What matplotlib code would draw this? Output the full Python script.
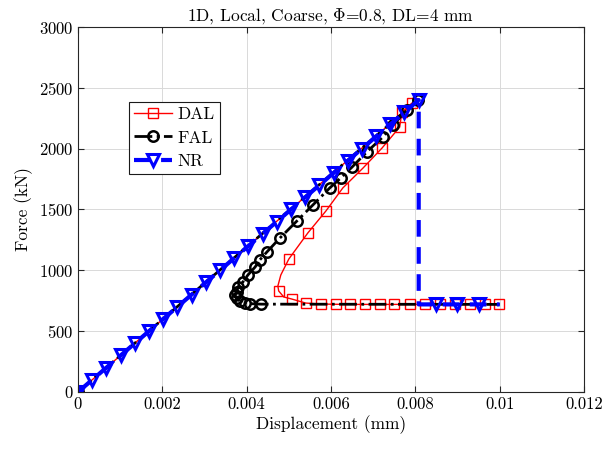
import matplotlib
matplotlib.use("Agg")
import matplotlib.pyplot as plt

# NR: linear loading, sudden drop, then flat
nr_x = [0, 0.000337, 0.000673, 0.00101, 0.001347, 0.001683, 0.00202, 0.002357,
        0.002693, 0.00303, 0.003367, 0.003703, 0.00404, 0.004377, 0.004713,
        0.00505, 0.005387, 0.005723, 0.00606, 0.006397, 0.006733, 0.00707,
        0.007407, 0.007743, 0.00808, 0.00808, 0.0085, 0.009, 0.0095, 0.01]
nr_f = [0, 100, 200, 300, 400, 500, 600, 700, 800, 900, 1000, 1100, 1200, 1300,
        1400, 1500, 1600, 1700, 1800, 1900, 2000, 2100, 2200, 2300, 2400,
        720, 720, 720, 720, 720]
nr_marks = list(range(25)) + [26, 27, 28]

# FAL: snap-back curve
fal_x = [0, 0.00806, 0.00780, 0.00747, 0.00723, 0.00685, 0.00650, 0.00623,
         0.00597, 0.00557, 0.00519, 0.00479, 0.00448, 0.00431, 0.00420,
         0.00403, 0.00391, 0.00379, 0.00377, 0.00372, 0.00377, 0.00384,
         0.00396, 0.00408, 0.00434, 0.01]
fal_f = [0, 2400, 2318, 2194, 2096, 1973, 1849, 1759, 1677, 1537, 1405, 1266,
         1151, 1085, 1027, 962, 904, 863, 822, 797, 773, 745, 733, 726, 722, 720]
fal_marks = list(range(0, 25))

# DAL: smoother return path
dal_x = [0, 0.00806, 0.00792, 0.00768, 0.00763, 0.00721, 0.00676, 0.00628,
         0.00588, 0.00545, 0.00500, 0.00481, 0.00474, 0.00476, 0.00488,
         0.00507, 0.00540, 0.00576, 0.00612, 0.00645, 0.00680, 0.00716,
         0.00749, 0.00787, 0.00823, 0.00858, 0.00894, 0.00929, 0.00965, 0.00998]
dal_f = [0, 2400, 2375, 2301, 2178, 2005, 1841, 1677, 1488, 1307, 1093, 962,
         871, 830, 781, 764, 731, 723, 721, 720, 720, 720, 720, 720, 720, 720,
         720, 720, 720, 720]
dal_marks = [0, 2, 3, 4, 5, 6, 7, 8, 9, 10, 13] + list(range(15, 30))

x_ticks = [0, 0.002, 0.004, 0.006, 0.008, 0.01, 0.012]
x_labels = ['0', '0.002', '0.004', '0.006', '0.008', '0.01', '0.012']
y_ticks = [0, 500, 1000, 1500, 2000, 2500, 3000]

plt.rcParams['font.family'] = 'cmr10'
plt.rcParams['mathtext.fontset'] = 'cm'
plt.rcParams['axes.formatter.use_mathtext'] = True

fig = plt.figure(figsize=(6.06, 4.5), dpi=100)
ax = fig.add_axes([0.1287, 0.1289, 0.835, 0.8111])

ax.plot(dal_x, dal_f, color='red', lw=1, marker='s', markersize=7,
        markerfacecolor='none', markeredgewidth=1, markevery=dal_marks, label='DAL')
ax.plot(fal_x, fal_f, color='black', lw=2, ls='-.', marker='o', markersize=7.5,
        markerfacecolor='none', markeredgewidth=1.8, markevery=fal_marks, label='FAL')
ax.plot(nr_x, nr_f, color='blue', lw=3, ls=(0, (4, 2.5)), marker='v', markersize=9,
        markerfacecolor='none', markeredgewidth=2.2, markevery=nr_marks, label='NR')

ax.set_xlim(0, 0.012)
ax.set_ylim(0, 3000)
ax.set_xticks(x_ticks)
ax.set_xticklabels(x_labels)
ax.set_yticks(y_ticks)
ax.tick_params(direction='in', top=True, right=True, labelsize=12, length=4,
               color='0.15')
for s in ax.spines.values():
    s.set_color('0.15')
    s.set_linewidth(0.8)
ax.grid(True, color='0.85', lw=0.7)
ax.set_axisbelow(True)

ax.set_title(r'1D, Local, Coarse, $\Phi$=0.8, DL=4 mm', fontsize=12.5, pad=5)
ax.set_xlabel('Displacement (mm)', fontsize=12.5, labelpad=2)
ax.set_ylabel('Force (kN)', fontsize=12.5, labelpad=4)

leg = ax.legend(loc='upper left', bbox_to_anchor=(0.1, 0.795), fontsize=12.5,
                fancybox=False, framealpha=1, edgecolor='0.1', handlelength=2.2,
                borderpad=0.3, labelspacing=0.45, handletextpad=0.3, borderaxespad=0)
leg.get_frame().set_linewidth(0.8)

fig.savefig('out.png', dpi=100)
